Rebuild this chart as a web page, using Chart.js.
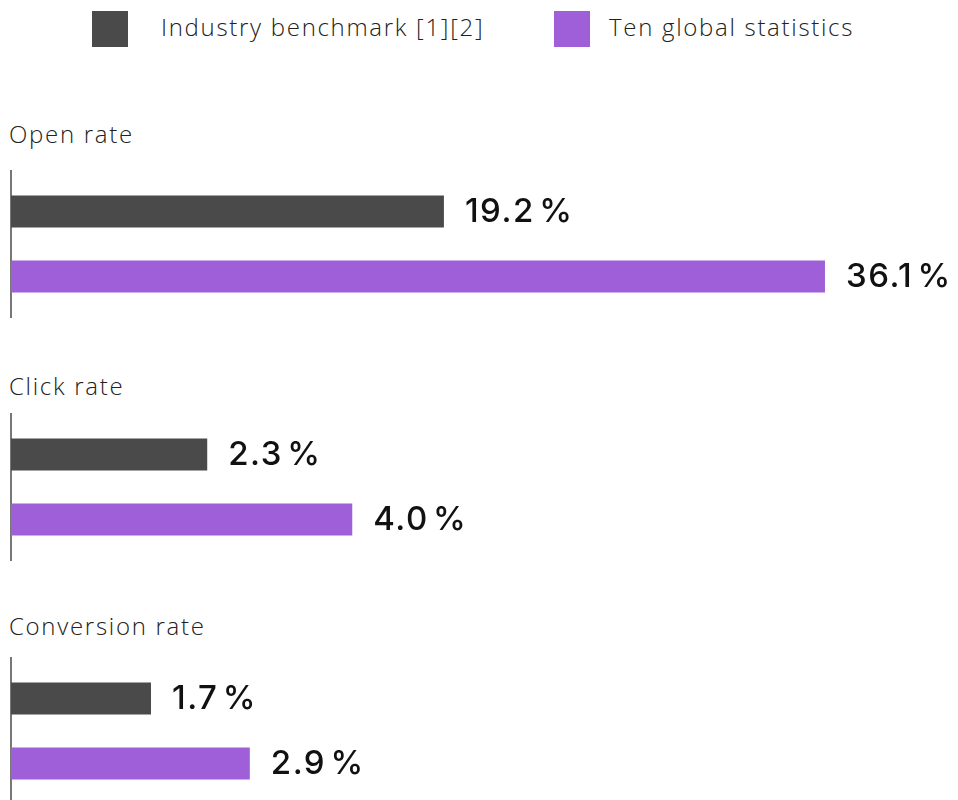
<!DOCTYPE html>
<html>
<head>
<meta charset="utf-8">
<script src="https://cdn.jsdelivr.net/npm/chart.js@4.4.1/dist/chart.umd.min.js"></script>
<style>
  body { margin: 0; width: 958px; height: 800px; overflow: hidden; background: #fff; font-family: "Open Sans", sans-serif; color: #222; }
  .legend-box { position: absolute; width: 36px; height: 36px; }
  .legend-text, .group-title { position: absolute; font-size: 24px; font-weight: 300; letter-spacing: 1.7px; line-height: 1; white-space: nowrap; }
  canvas { position: absolute; left: 0; }
</style>
</head>
<body>
<div class="legend-box" style="left:92px;top:11px;background:#4a4a4a"></div>
<div class="legend-text" id="leg0" style="left:161px;top:15px"></div>
<div class="legend-box" style="left:554px;top:11px;background:#9e5fd8"></div>
<div class="legend-text" id="leg1" style="left:609px;top:15px"></div>

<div class="group-title" id="t0" style="left:9px;top:122px"></div>
<canvas id="c0" width="958" height="148" style="top:170px"></canvas>
<div class="group-title" id="t1" style="left:9px;top:374px"></div>
<canvas id="c1" width="958" height="148" style="top:413px"></canvas>
<div class="group-title" id="t2" style="left:9px;top:614px"></div>
<canvas id="c2" width="958" height="148" style="top:657px"></canvas>

<script>
const categories = ["Open rate", "Click rate", "Conversion rate"];
const seriesNames = ["Industry benchmark [1][2]", "Ten global statistics"];
const industryBenchmark = [19.2, 2.3, 1.7];
const tenGlobal = [36.1, 4.0, 2.9];
// each group has its own x scale
const scaleMax = [42, 11.1, 11.5];
const colors = ["#4a4a4a", "#9e5fd8"];

document.getElementById("leg0").textContent = seriesNames[0];
document.getElementById("leg1").textContent = seriesNames[1];

const valueLabels = {
    id: "valueLabels",
    afterDatasetsDraw(chart) {
        const ctx = chart.ctx;
        ctx.save();
        ctx.font = "500 33px Inter, 'Open Sans', sans-serif";
        ctx.letterSpacing = "1.5px";
        ctx.fillStyle = "#111";
        ctx.textAlign = "left";
        ctx.textBaseline = "middle";
        chart.data.datasets.forEach((ds, i) => {
            chart.getDatasetMeta(i).data.forEach((bar, j) => {
                ctx.fillText(ds.data[j].toFixed(1) + "\u200A%", bar.x + 21, bar.y + 1);
            });
        });
        ctx.restore();
    }
};

categories.forEach((cat, g) => {
    document.getElementById("t" + g).textContent = cat;
    new Chart(document.getElementById("c" + g), {
        type: "bar",
        data: {
            labels: [cat],
            datasets: [
                { label: seriesNames[0], data: [industryBenchmark[g]], backgroundColor: colors[0] },
                { label: seriesNames[1], data: [tenGlobal[g]], backgroundColor: colors[1] }
            ]
        },
        options: {
            indexAxis: "y",
            responsive: false,
            animation: false,
            layout: { padding: { left: 11, right: 0, top: 0, bottom: 0 } },
            datasets: { bar: { categoryPercentage: 0.88, barPercentage: 0.49 } },
            plugins: { legend: { display: false }, tooltip: { enabled: false } },
            scales: {
                x: { display: false, min: 0, max: scaleMax[g] },
                y: {
                    display: true,
                    ticks: { display: false },
                    grid: { display: false, drawTicks: false },
                    border: { display: true, color: "#777", width: 2 }
                }
            }
        },
        plugins: [valueLabels]
    });
});
</script>
</body>
</html>
